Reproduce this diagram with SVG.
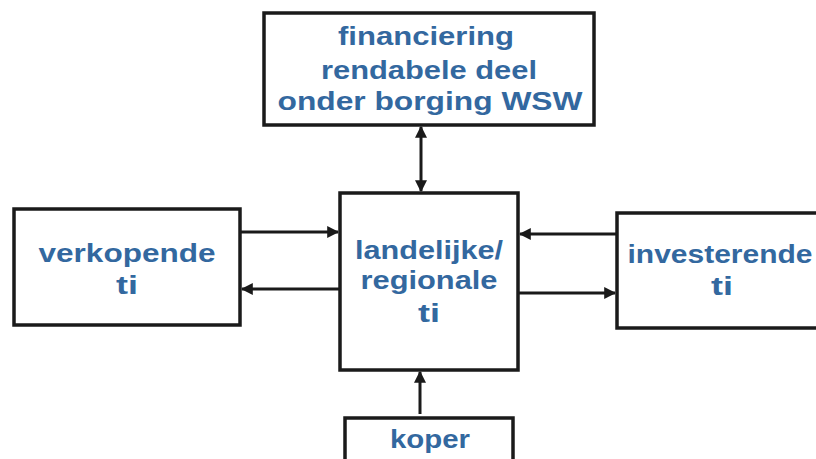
<svg xmlns="http://www.w3.org/2000/svg" width="816" height="459" viewBox="0 0 816 459">
<style>
.box{fill:#fff;stroke:#1a1a1a;stroke-width:3.5}
.t{font-family:"Liberation Sans",Arial,sans-serif;font-weight:bold;font-size:25px;fill:#33689f;text-anchor:middle}
.c{stroke:#1a1a1a;stroke-width:3;fill:none}
</style>
<defs>
<marker id="ah" viewBox="0 0 10 10" refX="9" refY="5" markerWidth="4" markerHeight="4" orient="auto-start-reverse" markerUnits="strokeWidth">
<path d="M0,0 L10,5 L0,10 z" fill="#1a1a1a"/>
</marker>
</defs>
<rect width="816" height="459" fill="#fff"/>
<g id="connectors">
<line class="c" x1="240" y1="232" x2="338" y2="232" marker-end="url(#ah)"/>
<line class="c" x1="340" y1="289" x2="242" y2="289" marker-end="url(#ah)"/>
<line class="c" x1="617" y1="234" x2="520" y2="234" marker-end="url(#ah)"/>
<line class="c" x1="518" y1="293" x2="615" y2="293" marker-end="url(#ah)"/>
<line class="c" x1="421" y1="127" x2="421" y2="191" marker-start="url(#ah)" marker-end="url(#ah)"/>
<line class="c" x1="420" y1="414" x2="420" y2="372" marker-end="url(#ah)"/>
</g>
<g id="financiering">
<rect class="box" x="264" y="13" width="330" height="112"/>
<text class="t" x="426" y="45" textLength="176" lengthAdjust="spacingAndGlyphs">financiering</text>
<text class="t" x="429" y="79" textLength="216" lengthAdjust="spacingAndGlyphs">rendabele deel</text>
<text class="t" x="430" y="110" textLength="305" lengthAdjust="spacingAndGlyphs">onder borging WSW</text>
</g>
<g id="verkopende">
<rect class="box" x="14" y="209" width="226" height="116"/>
<text class="t" x="127" y="262" textLength="177" lengthAdjust="spacingAndGlyphs">verkopende</text>
<text class="t" x="127" y="294" textLength="22" lengthAdjust="spacingAndGlyphs">ti</text>
</g>
<g id="landelijk">
<rect class="box" x="340" y="193" width="178" height="177"/>
<text class="t" x="429" y="259" textLength="148" lengthAdjust="spacingAndGlyphs">landelijke/</text>
<text class="t" x="429" y="289" textLength="137" lengthAdjust="spacingAndGlyphs">regionale</text>
<text class="t" x="429" y="322" textLength="22" lengthAdjust="spacingAndGlyphs">ti</text>
</g>
<g id="investerende">
<rect class="box" x="617" y="213" width="220" height="115"/>
<text class="t" x="720" y="263" textLength="185" lengthAdjust="spacingAndGlyphs">investerende</text>
<text class="t" x="722" y="295" textLength="22" lengthAdjust="spacingAndGlyphs">ti</text>
</g>
<g id="koper">
<rect class="box" x="345" y="418" width="168" height="60"/>
<text class="t" x="430" y="448" textLength="80" lengthAdjust="spacingAndGlyphs">koper</text>
</g>
</svg>
